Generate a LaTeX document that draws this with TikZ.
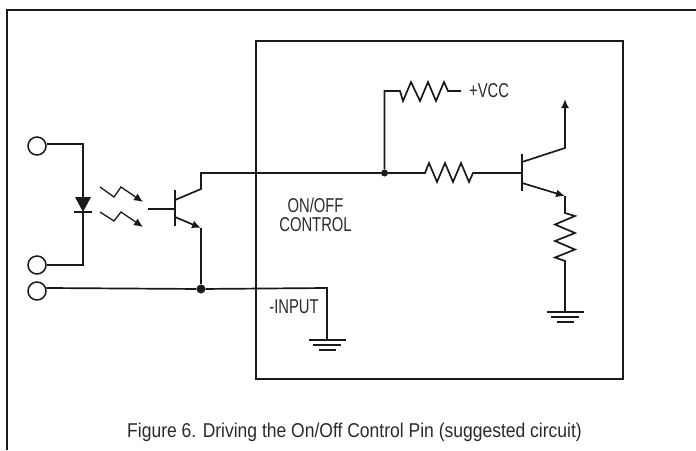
\documentclass[tikz,border=0pt]{standalone}
\usepackage{fontspec}
\setmainfont[FakeStretch=0.74]{Liberation Sans}
\newfontfamily\capfont[FakeStretch=0.875]{Liberation Sans}
\usetikzlibrary{positioning,shapes,arrows.meta,calc}
\definecolor{inkdark}{HTML}{1A1A1A}
\definecolor{textdark}{HTML}{2A2A2A}
\tikzstyle{terminal}=[draw=inkdark,circle,fill=white,line width=1.5pt,minimum size=18pt,inner sep=0pt]
\tikzstyle{junction}=[circle,fill=inkdark,minimum size=#1,inner sep=0pt]
\tikzstyle{wire}=[draw=inkdark,line width=1.7pt]
\tikzstyle{frameline}=[draw=inkdark,line width=2.8pt]
\tikzstyle{label}=[text=textdark,font=\fontsize{20}{19.5}\selectfont,inner sep=0pt,align=center]
\newcommand{\newGround}[1]{
  \draw[wire] ($(#1)+(-18.5,0)$) -- ($(#1)+(18.5,0)$);
  \draw[wire] ($(#1)+(-14,5)$) -- ($(#1)+(14,5)$);
  \draw[wire] ($(#1)+(-8.5,10)$) -- ($(#1)+(8.5,10)$);
}
\begin{document}
\begin{tikzpicture}[x=1pt,y=-1pt,>={Latex[length=9pt,width=8pt]},line join=miter]
      \useasboundingbox (0,0) rectangle (696,450);
      % outer frame and module box
      \draw[frameline] (7,450) -- (7,10) -- (696,10);
      \node[draw=inkdark,line width=1.8pt,minimum width=367pt,minimum height=338pt,inner sep=0pt] (module) at (439.5,210) {};

      \node[terminal] (termA) at (37,146) {};
      \node[terminal] (termB) at (37,265) {};
      \node[terminal] (termC) at (37,291) {};
      \coordinate (diodeA) at (83,197);
      \coordinate (diodeK) at (83,212);
      \coordinate (qAbase) at (148,209);
      \coordinate (qAbar) at (175,209);
      \coordinate (qAcol) at (201,189);
      \coordinate (qAemi) at (201,228);
      \coordinate (gndA) at (327,340);
      \node[junction=9pt] (jctIn) at (201,289) {};
      \node[junction=7pt] (jctCtl) at (384.5,173) {};
      \coordinate (qBbar) at (522,173);
      \coordinate (qBcol) at (565,148);
      \coordinate (qBemi) at (565,196);
      \coordinate (vccOut) at (565,99);
      \coordinate (gndB) at (565,312);
      \coordinate (vccEnd) at (461,91);

      % led
      \draw[wire] (termA.12) -| (diodeA);
      \draw[wire] (termB) -| (diodeK);
      \fill[inkdark] (75,197) -- (91,197) -- (diodeK) -- cycle;
      \draw[wire] (74,212) -- (92,212);

      % light arrows
      \draw[wire,line width=1.3pt,->] (100,187) -- (114,197) -- (121,187) -- (143,202);
      \draw[wire,line width=1.3pt,->] (100,212) -- (114,221) -- (121,212) -- (143,227);

      % input transistor
      \draw[wire] (qAbase) -- (qAbar);
      \draw[wire] (175,190) -- (175,226);
      \draw[wire] (175,200) -- (qAcol) -- (201,173) -- (jctCtl);
      \draw[wire,->] (175,217) -- (qAemi);
      \draw[wire] (qAemi) -- (jctIn);
      \draw[wire] (termC.18) -- (jctIn) -- (327,288) -- (gndA);
      \newGround{gndA}

      % resistors
      \draw[wire] (jctCtl) -- (384.5,91) -- (400,91) -- (403,101) -- (411,82) -- (420,101) -- (428,82) -- (436,101) -- (444,82) -- (448,91) -- (vccEnd);
      \draw[wire] (jctCtl) -- (425,173) -- (429,163) -- (437,182) -- (445,163) -- (453,182) -- (461,163) -- (469,182) -- (473,173) -- (qBbar);

      % output transistor
      \draw[wire] (522,154) -- (522,191);
      \draw[wire,->] (522,162) -- (qBcol) -- (vccOut);
      \draw[wire,->] (522,183) -- (qBemi);
      \draw[wire] (qBemi) -- (565,213) -- (575,216) -- (555,224.5) -- (575,233) -- (555,241) -- (575,249.5) -- (555,257.5) -- (565,261) -- (gndB);
      \newGround{gndB}

      % labels
      \node[label,anchor=base west] (vccLabel) at (469,97) {+VCC};
      \node[label] (ctlLabel) at (315.5,215) {ON/OFF\\CONTROL};
      \node[label,anchor=base] (inLabel) at (294,313) {-INPUT};
      \node[label,font=\capfont\fontsize{20}{20}\selectfont,anchor=base] (caption) at (354.5,437) {Figure 6. Driving the On/Off Control Pin (suggested circuit)};
\end{tikzpicture}
\end{document}
